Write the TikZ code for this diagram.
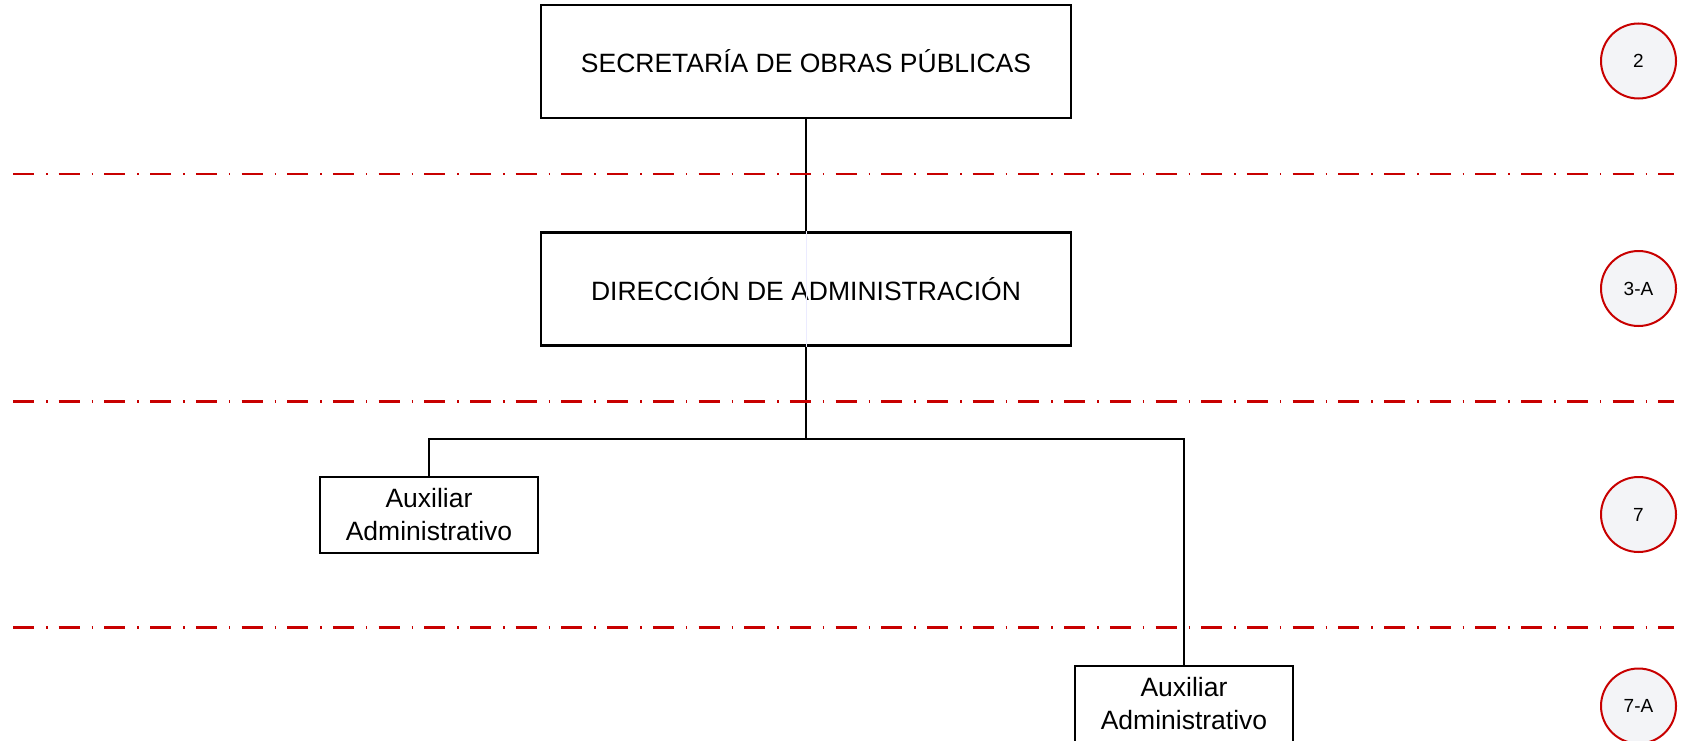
\documentclass[tikz,border=0pt]{standalone}
\usepackage{fontspec}
\setmainfont{Liberation Sans}
\definecolor{lvlred}{RGB}{200,0,0}
\definecolor{circfill}{RGB}{243,244,247}
\begin{document}
\begin{tikzpicture}[x=1pt,y=-1pt,
  orgbox/.style={draw=black,line width=2.2pt,fill=white,inner sep=0pt,align=center,
    font=\fontsize{26.5}{33}\selectfont},
  lvl/.style={draw=lvlred,line width=2pt,fill=circfill,circle,minimum size=75pt,inner sep=0pt,
    font=\fontsize{19}{22}\selectfont},
  sep/.style={draw=lvlred,line width=2.2pt,dash pattern=on 21pt off 12pt on 1.5pt off 11.2pt},
  conn/.style={draw=black,line width=2.5pt}]
\useasboundingbox (0,0) rectangle (1688,741);
\fill[white] (0,0) rectangle (1688,741);
% separators
\coordinate (s1a) at (13,174); \coordinate (s1b) at (1674,174);
\coordinate (s2a) at (13,401.5); \coordinate (s2b) at (1674,401.5);
\coordinate (s3a) at (13,627.5); \coordinate (s3b) at (1674,627.5);
% boxes
\node[orgbox,minimum width=530pt,minimum height=113pt] (sop) at (806,61.5) {SECRETARÍA DE OBRAS PÚBLICAS};
\node[orgbox,minimum width=530pt,minimum height=113pt] (dir) at (806,289) {DIRECCIÓN DE ADMINISTRACIÓN};
\node[orgbox,minimum width=218pt,minimum height=76pt] (aux1) at (429,515) {Auxiliar\\Administrativo};
\node[orgbox,minimum width=218pt,minimum height=76pt] (aux2) at (1184,704) {Auxiliar\\Administrativo};
\draw[blue!8,line width=1pt] (dir.north) -- (dir.south);
% connectors
\coordinate (br) at (806,439);
\coordinate (brl) at (429,439);
\coordinate (brr) at (1184,439);
\draw[conn] (sop.south) -- (dir.north);
\draw[conn] (dir.south) -- (br);
\draw[conn] (aux1.north) -- (brl) -- (brr) -- (aux2.north);
\draw[sep] (s1a) -- (s1b);
\draw[sep] (s2a) -- (s2b);
\draw[sep] (s3a) -- (s3b);
% level circles
\node[lvl] (l1) at (1638.5,61) {2};
\node[lvl] (l2) at (1638.5,288.5) {3-A};
\node[lvl] (l3) at (1638.5,514.5) {7};
\node[lvl] (l4) at (1638.5,706) {7-A};
\end{tikzpicture}
\end{document}
